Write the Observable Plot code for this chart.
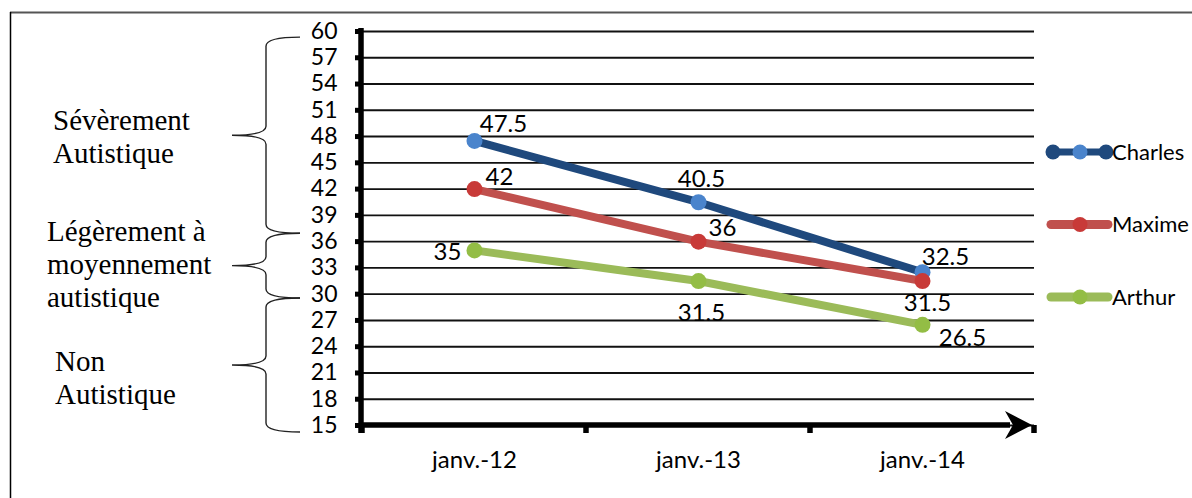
<!DOCTYPE html>
<html><head><meta charset="utf-8">
<script src="https://cdn.jsdelivr.net/npm/d3@7"></script>
<script src="https://cdn.jsdelivr.net/npm/@observablehq/plot@0.6"></script>
<style>
html,body{margin:0;padding:0;background:#fff;}
#chart{width:1192px;height:498px;overflow:hidden;}
</style></head><body><div id="chart"></div>
<script>
// ---- data ----
const categories = ["janv.-12", "janv.-13", "janv.-14"];
const seriesNames = ["Charles", "Maxime", "Arthur"];
const charles = [47.5, 40.5, 32.5];
const maxime = [42, 36, 31.5];
const arthur = [35, 31.5, 26.5];
const yTicks = [15, 18, 21, 24, 27, 30, 33, 36, 39, 42, 45, 48, 51, 54, 57, 60];
const zoneLabels = [["Sévèrement", "Autistique"], ["Légèrement à", "moyennement", "autistique"], ["Non", "Autistique"]];
const zoneBounds = [[59.3, 36.9], [36.9, 29.5], [29.5, 14.2]];

// ---- styling ----
const seriesValues = [charles, maxime, arthur];
const lineColors = {Charles: "#1f497d", Maxime: "#c0504d", Arthur: "#9bbb59"};
const dotColors = {Charles: "#4a84cc", Maxime: "#c83a38", Arthur: "#93bd45"};
const labelShift = {
  Charles: [[29, -17], [3, -23], [23, -15]],
  Maxime: [[25, -12], [24, -13], [5, 22]],
  Arthur: [[-27, 2], [3, 32], [40, 14]]
};
const zoneX = [53, 47, 55];
const zoneDy = [1, -2, 12];

const rows = seriesNames.flatMap((s, i) =>
  categories.map((c, j) => ({series: s, date: c, value: seriesValues[i][j], j})));

const marks = [];
marks.push(Plot.ruleY(yTicks, {stroke: "#111", strokeWidth: 1.9}));
marks.push(Plot.axisY({ticks: yTicks, tickSize: 6, tickPadding: 18, fontSize: 23, strokeWidth: 5, label: null, tickFormat: d => String(d)}));
marks.push(Plot.axisX({tickSize: 0, tickPadding: 25, fontSize: 24, label: null}));
seriesNames.forEach(s => {
  const data = rows.filter(r => r.series === s);
  marks.push(Plot.line(data, {x: "date", y: "value", stroke: lineColors[s], strokeWidth: 8, strokeLinecap: "round", strokeLinejoin: "round"}));
  marks.push(Plot.dot(data, {x: "date", y: "value", r: 8, fill: dotColors[s], stroke: "none"}));
});
rows.forEach(r => {
  const [dx, dy] = labelShift[r.series][r.j];
  marks.push(Plot.text([r], {x: "date", y: "value", text: d => String(d.value), dx, dy, fontSize: 24, fill: "#000"}));
});

const chart = Plot.plot({
  width: 1192, height: 498,
  marginLeft: 361, marginRight: 158, marginTop: 31, marginBottom: 73,
  style: {fontFamily: "Lato, sans-serif", fontSize: "22px", color: "#000", background: "#fff", overflow: "visible"},
  x: {type: "point", domain: categories, padding: 0.5},
  y: {domain: [15, 60]},
  marks
});
document.getElementById("chart").appendChild(chart);

// ---- decorations drawn with the plot's scales ----
const sx = chart.scale("x"), sy = chart.scale("y");
const X = v => sx.apply(v), Y = v => sy.apply(v);
const svg = d3.select(chart);
const g = svg.append("g");
const left = 361, right = 1192 - 158;
const step = X(categories[1]) - X(categories[0]);
const y0 = Y(15);

// border
g.append("line").attr("x1", 10).attr("x2", 1192).attr("y1", 12.5).attr("y2", 12.5).attr("stroke", "#555").attr("stroke-width", 2);
g.append("line").attr("x1", 10.5).attr("x2", 10.5).attr("y1", 12).attr("y2", 498).attr("stroke", "#000").attr("stroke-width", 1.5);

// y axis line
g.append("line").attr("x1", left).attr("x2", left).attr("y1", Y(60) - 3).attr("y2", y0 + 8).attr("stroke", "#000").attr("stroke-width", 5.5);
// x ticks at band boundaries
const bounds = categories.map(c => X(c) - step / 2).concat([X(categories[categories.length - 1]) + step / 2]);
bounds.forEach(b => g.append("line").attr("x1", b).attr("x2", b).attr("y1", y0).attr("y2", y0 + 8).attr("stroke", "#000").attr("stroke-width", 5.5));
// x axis line with arrow
g.append("line").attr("x1", left).attr("x2", right - 24).attr("y1", y0).attr("y2", y0).attr("stroke", "#000").attr("stroke-width", 5.5);
g.append("path").attr("d", `M${right - 2},${y0} L${right - 29},${y0 - 14} L${right - 21},${y0} L${right - 29},${y0 + 14} Z`).attr("fill", "#000");

// braces + zone labels
const xEnd = 300, xv = 266, xp = 232, rr = 9, lh = 33;
zoneBounds.forEach(([a, b], i) => {
  const y1 = Y(a), y2 = Y(b), ym = (y1 + y2) / 2;
  const d = `M${xEnd},${y1} Q${xv},${y1} ${xv},${y1 + rr} L${xv},${ym - rr} Q${xv},${ym} ${xp},${ym} Q${xv},${ym} ${xv},${ym + rr} L${xv},${y2 - rr} Q${xv},${y2} ${xEnd},${y2}`;
  g.append("path").attr("d", d).attr("fill", "none").attr("stroke", "#222").attr("stroke-width", 1.4);
  const lines = zoneLabels[i];
  const first = ym + zoneDy[i] - (lines.length - 1) * lh / 2 + 10;
  const t = g.append("text").attr("font-family", "'Liberation Serif', 'Times New Roman', serif").attr("font-size", 29)
    .attr("text-anchor", "start").attr("fill", "#000");
  lines.forEach((ln, k) => t.append("tspan").attr("x", zoneX[i]).attr("y", first + k * lh).text(ln));
});

// legend
const lg = g.append("g");
seriesNames.forEach((s, i) => {
  const ly = 152 + i * 72.5;
  const x1 = right + 19, x2 = right + 72, xm = right + 46;
  if (i === 0) {
    lg.append("line").attr("x1", x1).attr("x2", x2).attr("y1", ly).attr("y2", ly).attr("stroke", lineColors[s]).attr("stroke-width", 7);
    lg.append("circle").attr("cx", x1).attr("cy", ly).attr("r", 7.5).attr("fill", lineColors[s]);
    lg.append("circle").attr("cx", x2).attr("cy", ly).attr("r", 7.5).attr("fill", lineColors[s]);
    lg.append("circle").attr("cx", xm).attr("cy", ly).attr("r", 7.5).attr("fill", dotColors[s]);
  } else {
    lg.append("line").attr("x1", x1 - 2).attr("x2", x2 + 2).attr("y1", ly).attr("y2", ly).attr("stroke", lineColors[s]).attr("stroke-width", 9).attr("stroke-linecap", "round");
    lg.append("circle").attr("cx", xm).attr("cy", ly).attr("r", 7.5).attr("fill", dotColors[s]);
  }
  lg.append("text").attr("x", right + 78).attr("y", ly).attr("dy", "0.35em").attr("text-anchor", "start")
    .attr("font-size", 22).attr("font-family", "Lato, sans-serif").attr("fill", "#000").text(s);
});
</script>
</body></html>
